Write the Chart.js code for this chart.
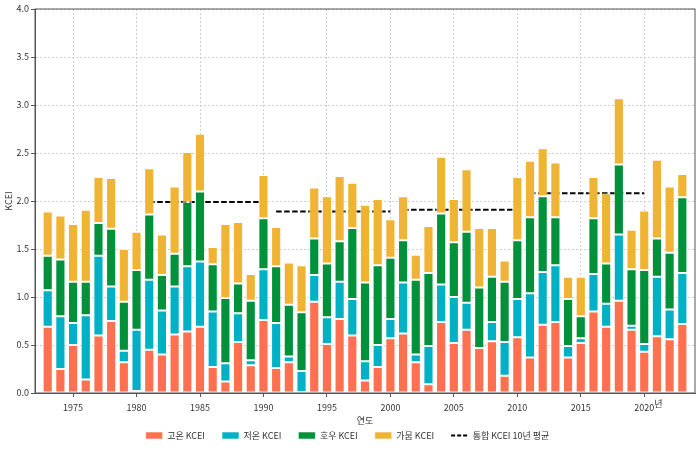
<!DOCTYPE html>
<html>
<head>
<meta charset="utf-8">
<script src="https://cdn.jsdelivr.net/npm/chart.js@4"></script>
<style>
  body { margin: 0; background: #fff; }
  #wrap { width: 700px; height: 450px; }
</style>
</head>
<body>
<div id="wrap"><canvas id="kcei-chart" width="700" height="450"></canvas></div>
<script>
const years = [1973, 1974, 1975, 1976, 1977, 1978, 1979, 1980, 1981, 1982,
  1983, 1984, 1985, 1986, 1987, 1988, 1989, 1990, 1991, 1992,
  1993, 1994, 1995, 1996, 1997, 1998, 1999, 2000, 2001, 2002,
  2003, 2004, 2005, 2006, 2007, 2008, 2009, 2010, 2011, 2012,
  2013, 2014, 2015, 2016, 2017, 2018, 2019, 2020, 2021, 2022, 2023];

// 고온 / 저온 / 호우 / 가뭄 components (stacked)
const heatKcei = [0.69, 0.25, 0.50, 0.14, 0.60, 0.75, 0.32, 0.02, 0.45, 0.40,
  0.61, 0.64, 0.69, 0.27, 0.12, 0.53, 0.29, 0.76, 0.26, 0.32,
  0.01, 0.95, 0.51, 0.77, 0.60, 0.13, 0.27, 0.57, 0.62, 0.32,
  0.09, 0.74, 0.52, 0.66, 0.47, 0.54, 0.18, 0.58, 0.37, 0.71,
  0.74, 0.37, 0.52, 0.85, 0.69, 0.96, 0.66, 0.43, 0.59, 0.56, 0.72];
const coldKcei = [0.38, 0.55, 0.23, 0.67, 0.83, 0.36, 0.12, 0.64, 0.73, 0.46,
  0.50, 0.68, 0.68, 0.58, 0.19, 0.30, 0.05, 0.53, 0.47, 0.06,
  0.22, 0.28, 0.28, 0.39, 0.38, 0.20, 0.23, 0.20, 0.53, 0.08,
  0.40, 0.39, 0.48, 0.28, 0.00, 0.20, 0.35, 0.40, 0.67, 0.55,
  0.59, 0.12, 0.05, 0.39, 0.24, 0.69, 0.04, 0.08, 0.62, 0.31, 0.53];
const rainKcei = [0.36, 0.59, 0.43, 0.35, 0.34, 0.60, 0.51, 0.62, 0.68, 0.37,
  0.34, 0.67, 0.73, 0.49, 0.68, 0.31, 0.62, 0.53, 0.59, 0.54,
  0.61, 0.38, 0.56, 0.42, 0.74, 0.82, 0.83, 0.64, 0.44, 0.78,
  0.76, 0.74, 0.57, 0.74, 0.63, 0.47, 0.63, 0.61, 0.79, 0.79,
  0.50, 0.49, 0.23, 0.58, 0.42, 0.73, 0.59, 0.77, 0.40, 0.59, 0.79];
const droughtKcei = [0.46, 0.46, 0.60, 0.75, 0.48, 0.53, 0.55, 0.40, 0.48, 0.42,
  0.70, 0.52, 0.60, 0.18, 0.77, 0.64, 0.28, 0.45, 0.41, 0.44,
  0.49, 0.53, 0.70, 0.68, 0.47, 0.81, 0.69, 0.40, 0.46, 0.26,
  0.49, 0.59, 0.45, 0.65, 0.62, 0.51, 0.22, 0.66, 0.59, 0.50,
  0.57, 0.23, 0.41, 0.43, 0.73, 0.69, 0.41, 0.62, 0.82, 0.69, 0.24];

// 통합 KCEI 10년 평균
const decadeStart = [1981, 1991, 2001, 2011];
const decadeEnd = [1990, 2000, 2010, 2020];
const decadeAvg = [1.99, 1.89, 1.91, 2.08];

const yTicks = [0, 0.5, 1, 1.5, 2, 2.5, 3, 3.5, 4];

Chart.defaults.font.family = "'Noto Sans CJK KR', 'Noto Sans', sans-serif";
Chart.defaults.font.size = 9;
Chart.defaults.color = "#333";

function barSet(label, values, color) {
  return {
    type: "bar",
    label: label,
    data: years.map((yr, i) => ({ x: yr, y: values[i] })),
    backgroundColor: color,
    borderColor: "rgba(255,255,255,0.55)",
    borderWidth: 1,
    borderSkipped: false,
    categoryPercentage: 1,
    barPercentage: 0.8,
    pointStyle: "rect",
    stack: "kcei",
  };
}

const avgSets = decadeAvg.map((v, i) => ({
  type: "line",
  label: "통합 KCEI 10년 평균",
  data: [
    { x: decadeStart[i], y: v },
    { x: decadeEnd[i], y: v },
  ],
  borderColor: "#000",
  borderWidth: 2,
  borderDash: [5.5, 2.5],
  pointRadius: 0,
  pointStyle: "line",
  stack: "avg" + i,
}));

// spines on all four sides + the "년" unit next to 2020
const framePlugin = {
  id: "frame",
  afterDraw(chart) {
    const { ctx, chartArea: a, scales } = chart;
    ctx.save();
    ctx.strokeStyle = "#555";
    ctx.lineWidth = 1;
    ctx.strokeRect(a.left, a.top, a.right - a.left, a.bottom - a.top);
    ctx.fillStyle = "#333";
    ctx.font = "9px 'Noto Sans CJK KR'";
    ctx.textBaseline = "middle";
    ctx.fillText("년", scales.x.getPixelForValue(2020) + 10, a.bottom + 11);
    ctx.restore();
  },
};

new Chart(document.getElementById("kcei-chart"), {
  data: {
    datasets: [
      barSet("고온 KCEI", heatKcei, "#FF7050"),
      barSet("저온 KCEI", coldKcei, "#00B0C4"),
      barSet("호우 KCEI", rainKcei, "#00913A"),
      barSet("가뭄 KCEI", droughtKcei, "#F0B435"),
      ...avgSets,
    ],
  },
  options: {
    responsive: false,
    animation: false,
    layout: { padding: { top: 9, right: 5, left: 0, bottom: 0 } },
    plugins: {
      tooltip: { enabled: false },
      legend: {
        position: "bottom",
        labels: {
          usePointStyle: true,
          pointStyleWidth: 17,
          boxHeight: 7,
          padding: 17,
          color: "#333",
          generateLabels: (chart) => {
            const items = Chart.defaults.plugins.legend.labels.generateLabels(chart);
            items.forEach((it) => {
              if (it.datasetIndex >= 4) it.lineDash = [4, 2];
            });
            return items.filter((it) => it.datasetIndex <= 4);
          },
        },
      },
    },
    scales: {
      x: {
        type: "linear",
        min: 1972,
        max: 2024,
        offset: false,
        stacked: true,
        afterBuildTicks: (axis) => {
          axis.ticks = axis.ticks.filter((t) => t.value % 5 === 0);
        },
        afterFit: (axis) => {
          axis.height = 21;
        },
        ticks: { stepSize: 5, padding: 5, maxRotation: 0, callback: (v) => String(v) },
        grid: {
          color: "#cfcfcf",
          tickColor: "#555",
          tickLength: 4,
          offset: false,
        },
        border: { color: "#555", dash: [2, 2] },
        title: { display: true, text: "연도", padding: { top: 0, bottom: -12 } },
      },
      y: {
        stacked: true,
        min: 0,
        max: 4,
        afterBuildTicks: (axis) => {
          axis.ticks = yTicks.map((v) => ({ value: v }));
        },
        afterFit: (axis) => {
          axis.width = 35;
        },
        ticks: { padding: 2, callback: (v) => v.toFixed(1) },
        grid: { color: "#cfcfcf", tickColor: "#555", tickLength: 4 },
        border: { color: "#555", dash: [2, 2] },
        title: { display: true, text: "KCEI", padding: { top: 3, bottom: 0 } },
      },
    },
  },
  plugins: [framePlugin],
});
</script>
</body>
</html>
